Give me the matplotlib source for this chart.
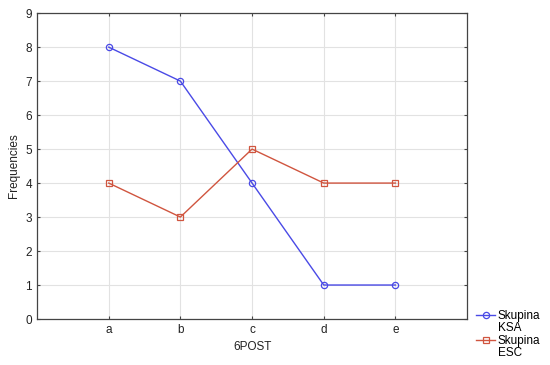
import numpy as np
import matplotlib.pyplot as plt
from matplotlib.lines import Line2D

plt.rcParams['font.family'] = ['Liberation Sans', 'DejaVu Sans']

categories = ['a', 'b', 'c', 'd', 'e']
ksa = [8, 7, 4, 1, 1]
esc = [4, 3, 5, 4, 4]

x = np.arange(1, len(categories) + 1)

fig = plt.figure(figsize=(5.5, 3.65), dpi=100)
ax = fig.add_axes([0.0673, 0.126, 0.782, 0.838])

l1, = ax.plot(x, ksa, '-o', color='#4a4ae6', linewidth=1, markersize=4.5,
              markerfacecolor='none', markeredgewidth=0.9)
l2, = ax.plot(x, esc, '-s', color='#d0553f', linewidth=1, markersize=4.5,
              markerfacecolor='none', markeredgewidth=0.9)

ax.set_xlim(0, 6)
ax.set_ylim(0, 9)
ax.set_xticks(x)
ax.set_xticklabels(categories)
ax.set_yticks(range(0, 10))
ax.grid(True, color='#e2e2e2', linewidth=0.8)
ax.set_axisbelow(True)
ax.tick_params(direction='in', length=2.5, labelsize=8.5, top=True, right=True,
               colors='#444444', labelcolor='#222222')
for s in ax.spines.values():
    s.set_color('#444444')
    s.set_linewidth(0.9)

ax.set_xlabel('6POST', fontsize=8.5, color='#222222')
ax.set_ylabel('Frequencies', fontsize=8.5, color='#222222')

# legend: handle next to first line of each two-line label
blank = Line2D([], [], linestyle='none')
fig.legend([l1, blank, l2, blank], ['Skupina', 'KSA', 'Skupina', 'ESC'],
           loc='upper left', bbox_to_anchor=(0.855, 0.167), frameon=False,
           fontsize=8.5, handlelength=1.6, handletextpad=0.25,
           labelspacing=0.04, borderpad=0)

fig.savefig('out.png', dpi=100)
